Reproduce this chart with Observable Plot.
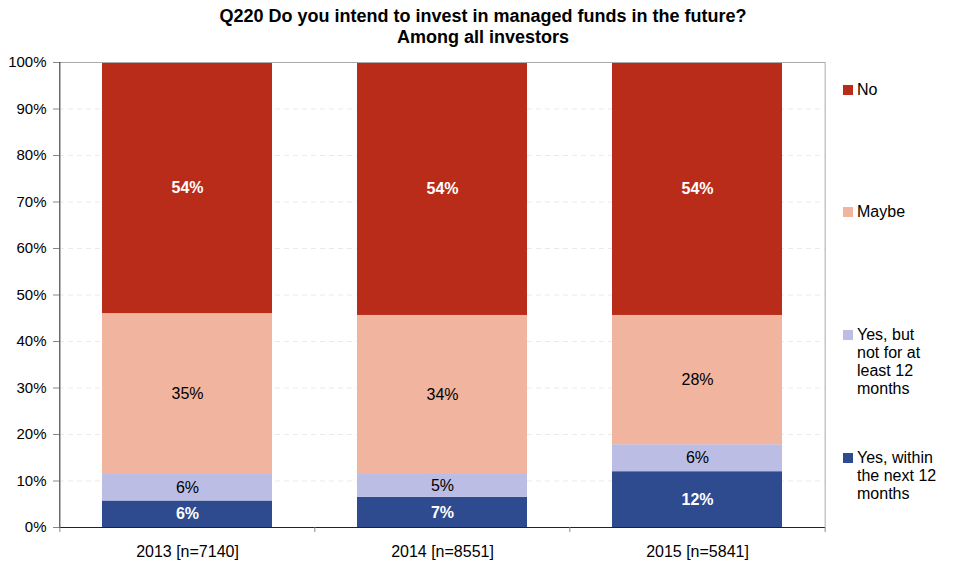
<!DOCTYPE html>
<html>
<head>
<meta charset="utf-8">
<script src="https://cdn.jsdelivr.net/npm/d3@7"></script>
<script src="https://cdn.jsdelivr.net/npm/@observablehq/plot@0.6"></script>
<style>
  html, body { margin: 0; padding: 0; background: #fff; }
  body { width: 966px; height: 571px; position: relative; overflow: hidden; font-family: "Liberation Sans", Arial, sans-serif; }
  #title { position: absolute; left: 0; top: 6px; width: 966px; text-align: center; font-weight: bold; font-size: 18px; line-height: 21px; color: #000; }
  #chart { position: absolute; left: 0; top: 50px; }
  .leg { position: absolute; left: 843px; font-size: 16px; line-height: 18px; color: #000; }
  .sw { position: absolute; left: 0; top: 4px; width: 10px; height: 10px; }
  .lt { position: absolute; left: 14px; top: 0; white-space: nowrap; }
</style>
</head>
<body>
<div id="title">Q220 Do you intend to invest in managed funds in the future?<br>Among all investors</div>
<div id="chart"></div>
<div id="legend"></div>
<script>
const years = ["2013 [n=7140]", "2014 [n=8551]", "2015 [n=5841]"];
const categories = ["Yes, within the next 12 months", "Yes, but not for at least 12 months", "Maybe", "No"];
const legendLines = [["Yes, within", "the next 12", "months"], ["Yes, but", "not for at", "least 12", "months"], ["Maybe"], ["No"]];
const yesWithin = [5.7, 6.5, 12.0];
const yesLater = [5.7, 4.9, 5.8];
const maybe = [34.6, 34.2, 27.8];
const no = [54.0, 54.4, 54.4];
const colors = ["#2F4B8F", "#BCBDE5", "#F0B49F", "#BA2C1A"];
const yTicks = [0, 10, 20, 30, 40, 50, 60, 70, 80, 90, 100];

const series = [yesWithin, yesLater, maybe, no];
const data = [];
years.forEach((yr, i) => {
  categories.forEach((c, j) => data.push({year: yr, cat: c, value: series[j][i]}));
});

const W = 966, H = 521, mL = 59, mR = 141, mT = 12, mB = 44;
const step = (W - mL - mR) / 3;
const whiteCats = [categories[0], categories[3]];
const lbl = d => Math.round(d.value) + "%";

const chart = Plot.plot({
  width: W, height: H,
  marginLeft: mL, marginRight: mR, marginTop: mT, marginBottom: mB,
  style: {fontFamily: "'Liberation Sans', Arial, sans-serif", fontSize: "16px", color: "#000", background: "#fff"},
  x: {domain: years, type: "band", paddingInner: 1/3, paddingOuter: 1/6, label: null},
  y: {domain: [0, 100], label: null},
  color: {domain: categories, range: colors},
  marks: [
    Plot.gridY(yTicks.slice(1, -1), {stroke: "#e4e4e4", strokeOpacity: 1, strokeDasharray: "5,4", strokeWidth: 0.8}),
    Plot.barY(data, {x: "year", y: "value", fill: "cat", order: categories}),
    Plot.text(data, Plot.stackY({x: "year", y: "value", z: "cat", order: categories,
      text: d => whiteCats.includes(d.cat) ? lbl(d) : null, fill: "white", fontSize: 16, fontWeight: "bold"})),
    Plot.text(data, Plot.stackY({x: "year", y: "value", z: "cat", order: categories,
      text: d => whiteCats.includes(d.cat) ? null : lbl(d), fill: "black", fontSize: 16})),
    Plot.ruleY([100], {stroke: "#aaaaaa", strokeWidth: 1}),
    Plot.ruleX([years[2]], {y1: 0, y2: 100, dx: step / 2, stroke: "#aaaaaa", strokeWidth: 1}),
    Plot.ruleX([years[0]], {y1: 0, y2: 100, dx: -step / 2, stroke: "#222", strokeWidth: 1}),
    Plot.ruleY([0], {stroke: "#222", strokeWidth: 1}),
    Plot.axisY(yTicks, {tickSize: 6, tickFormat: d => d + "%", stroke: "#888", fill: "#000", fontSize: 15, tickPadding: 7}),
    Plot.axisX(years, {tickSize: 0, tickPadding: 18, fill: "#000", fontSize: 16}),
    Plot.axisX(years, {tickSize: 5, tickFormat: () => "", dx: -step / 2, stroke: "#888"}),
    Plot.axisX([years[2]], {tickSize: 5, tickFormat: () => "", dx: step / 2, stroke: "#888"})
  ]
});
document.getElementById("chart").appendChild(chart);

// legend on the right
const legendTops = [449, 326, 203, 81];
const leg = document.getElementById("legend");
categories.forEach((c, j) => {
  const div = document.createElement("div");
  div.className = "leg";
  div.style.top = legendTops[j] + "px";
  const sw = document.createElement("div");
  sw.className = "sw";
  sw.style.background = colors[j];
  const t = document.createElement("div");
  t.className = "lt";
  t.innerHTML = legendLines[j].join("<br>");
  div.appendChild(sw);
  div.appendChild(t);
  leg.appendChild(div);
});
</script>
</body>
</html>
